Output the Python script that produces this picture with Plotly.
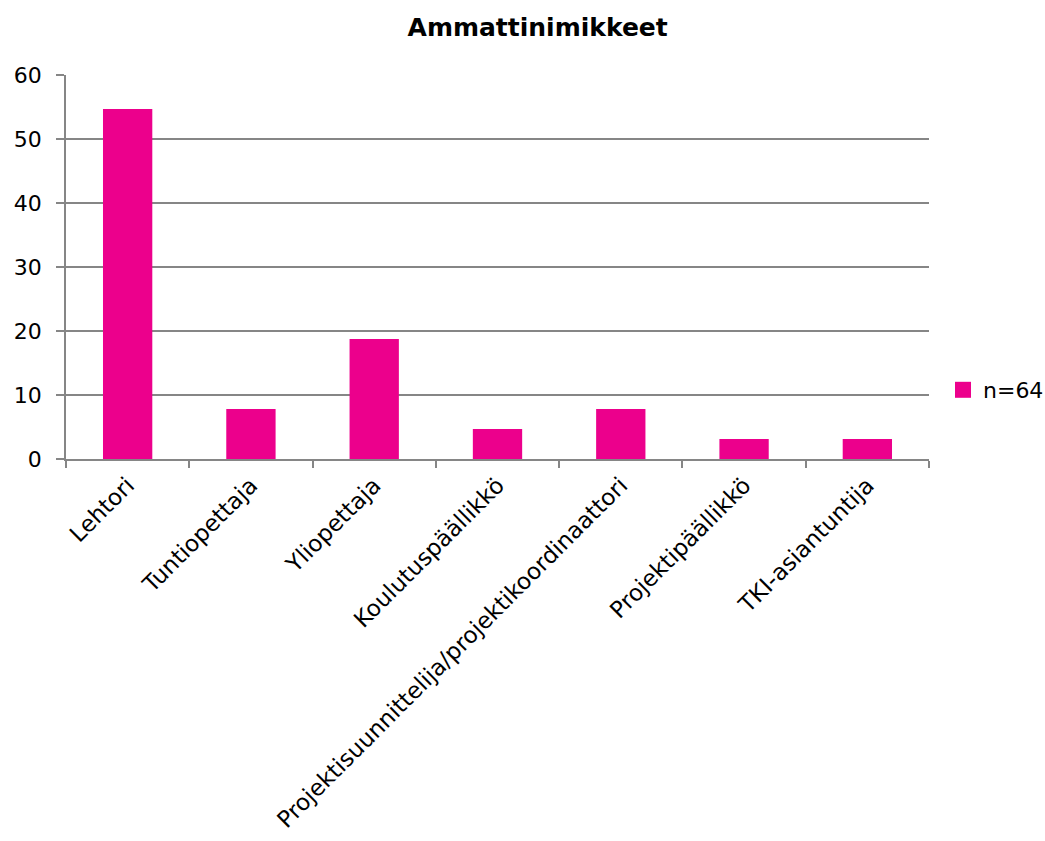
import plotly.graph_objects as go

categories = ["Lehtori", "Tuntiopettaja", "Yliopettaja", "Koulutuspäällikkö",
              "Projektisuunnittelija/projektikoordinaattori", "Projektipäällikkö", "TKI-asiantuntija"]
values = [54.69, 7.81, 18.75, 4.69, 7.81, 3.13, 3.13]
series_name = "n=64"
title = "Ammattinimikkeet"
y_ticks = [0, 10, 20, 30, 40, 50, 60]

FONT = "DejaVu Sans"
GRID = "#868686"
BAR = "#EC008C"

fig = go.Figure()
fig.add_trace(go.Bar(x=categories, y=values, name=series_name,
                     marker=dict(color=BAR, line=dict(width=0)),
                     showlegend=False))
# legend entry with a larger square swatch
fig.add_trace(go.Scatter(x=[None], y=[None], mode="markers", name=series_name,
                         marker=dict(symbol="square", size=16, color=BAR, line=dict(width=0)),
                         showlegend=True, hoverinfo="skip"))

fig.update_layout(
    width=1045, height=841,
    margin=dict(l=66, r=116, t=75, b=382, autoexpand=False),
    paper_bgcolor="white", plot_bgcolor="white",
    bargap=0.6,
    font=dict(family=FONT, size=22, color="black"),
    title=dict(text="<b>" + title + "</b>", x=0.5145, xanchor="center",
               y=1 - 27 / 841, yanchor="middle", font=dict(family=FONT, size=25, color="black")),
    showlegend=True,
    legend=dict(x=(943 - 66) / 863, xanchor="left", y=(459 - 390) / 384, yanchor="middle",
                font=dict(family=FONT, size=22, color="black"),
                bgcolor="rgba(0,0,0,0)", itemwidth=30, borderwidth=0),
    xaxis=dict(type="category", tickangle=-45, tickson="boundaries",
               ticks="outside", ticklen=7, tickcolor=GRID, tickwidth=1.5,
               showline=True, linecolor=GRID, linewidth=1.5, showgrid=False,
               ticklabelstandoff=2,
               tickfont=dict(family=FONT, size=23, color="black")),
    yaxis=dict(range=[0, 60], tickvals=y_ticks, ticks="outside", ticklen=8,
               tickcolor=GRID, tickwidth=1.5,
               showline=True, linecolor=GRID, linewidth=1.5,
               showgrid=True, gridcolor=GRID, gridwidth=1.5, zeroline=False,
               ticklabelstandoff=10,
               tickfont=dict(family=FONT, size=22, color="black")),
)

fig.write_html("out.html")
